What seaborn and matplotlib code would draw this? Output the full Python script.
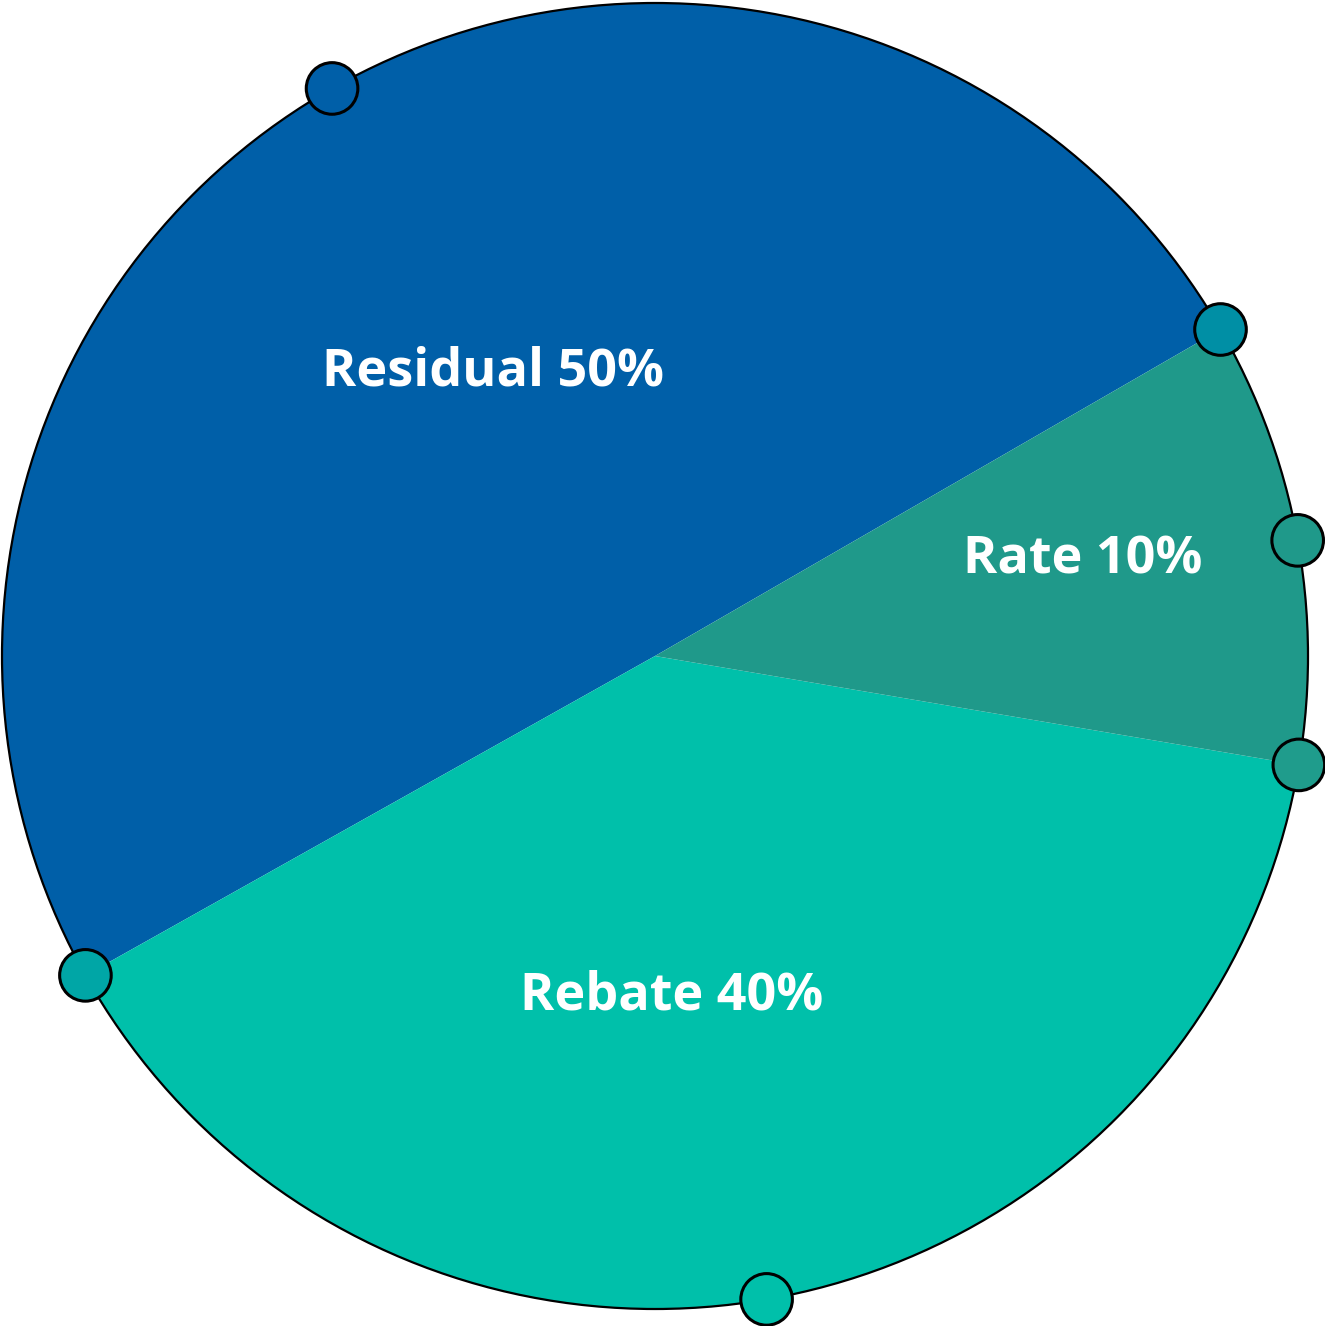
import numpy as np
import matplotlib.pyplot as plt
import seaborn as sns

sns.set_theme(style="white")
plt.rcParams['font.family'] = ['Open Sans', 'DejaVu Sans']

# slice data (shares)
categories = ['Residual', 'Rebate', 'Rate']
shares = [49.8, 39.2, 11.0]
labels = ['Residual 50%', 'Rebate 40%', 'Rate 10%']
colors = ['#005FA8', '#00C0AA', '#1F998A']

# handle colours: one at each wedge middle, one at each wedge start
mid_colors = ['#005FA8', '#00C0AA', '#1F998A']
edge_colors = ['#008FA5', '#00A6A6', '#1F9C8C']

# label anchor points (baseline, data units, radius 1)
label_pos = [(-0.248, 0.415), (0.026, -0.542), (0.655, 0.127)]

fig = plt.figure(figsize=(13.25, 13.26), dpi=100)
ax = fig.add_axes([0, 0, 1, 1])

wedges, _ = ax.pie(shares, colors=colors, startangle=30, radius=1,
                   wedgeprops=dict(linewidth=0, antialiased=True))

# outer outline
ax.add_patch(plt.Circle((0, 0), 1, fill=False, edgecolor='black', linewidth=1.6, zorder=3))

# labels
for (x, y), txt in zip(label_pos, labels):
    ax.text(x, y, txt, color='white', fontsize=37.5, fontweight='bold',
            ha='center', va='baseline', zorder=4)

# handles on the rim
hx, hy, hc = [], [], []
for w, mc, ec in zip(wedges, mid_colors, edge_colors):
    mid = np.deg2rad((w.theta1 + w.theta2) / 2)
    hx.append(np.cos(mid)); hy.append(np.sin(mid)); hc.append(mc)
    start = np.deg2rad(w.theta1)
    hx.append(np.cos(start)); hy.append(np.sin(start)); hc.append(ec)
ax.scatter(hx, hy, s=1380, c=hc, edgecolors='black', linewidths=2.2, zorder=5)

ax.set_xlim(-655 / 653, (1325 - 655) / 653)
ax.set_ylim(-(1326 - 656) / 653, 656 / 653)
ax.set_aspect('equal')
ax.axis('off')

fig.savefig('out.png', dpi=100, facecolor='white')
